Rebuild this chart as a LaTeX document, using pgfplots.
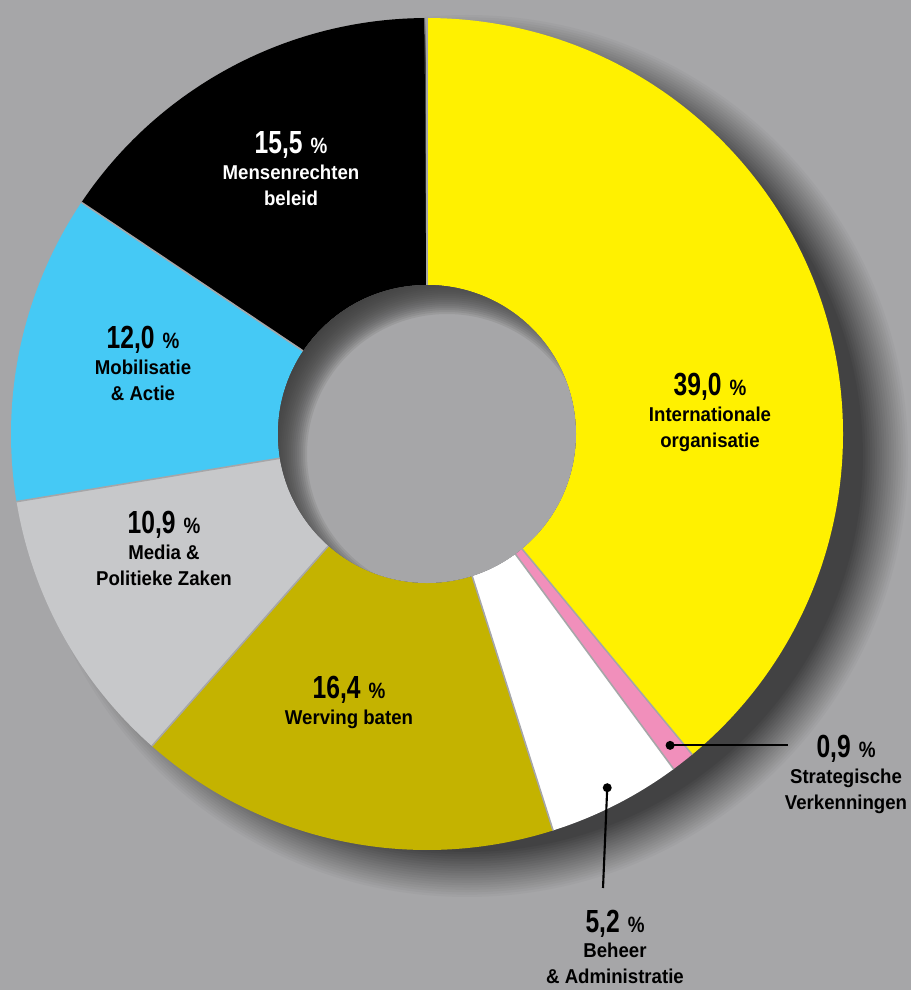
\documentclass[border=0pt]{standalone}
\usepackage{pgfplots}
\pgfplotsset{compat=1.18}
\usepackage{pgfplotstable}
\usepackage{fontspec}
\setmainfont{Liberation Sans}
\newfontfamily\numf{Liberation Sans}[FakeStretch=0.77]
\newfontfamily\txtf{Liberation Sans}[FakeStretch=0.93]
\newfontfamily\pctf{Liberation Sans}[FakeStretch=0.85]

\definecolor{bg}{HTML}{A6A6A8}
\definecolor{shd}{HTML}{3A3A3A}
\definecolor{cyel}{HTML}{FFF100}
\definecolor{cpink}{HTML}{F18FBB}
\definecolor{cwhite}{HTML}{FFFFFF}
\definecolor{colive}{HTML}{C4B300}
\definecolor{cgrey}{HTML}{C7C8CA}
\definecolor{cblue}{HTML}{45C9F5}
\definecolor{cblack}{HTML}{000000}

% shares in percent, clockwise from 12 o'clock
\pgfplotstableread{
share colour
39.0  cyel
0.9   cpink
5.2   cwhite
16.4  colive
10.9  cgrey
12.0  cblue
15.5  cblack
}\slices

\newcommand\SA[1]{\csname sa#1\endcsname}
\newcommand\EA[1]{\csname ea#1\endcsname}
\newcommand\MA[1]{\csname ma#1\endcsname}

% label: x, baseline of number (px from top), number, line 1, line 2, colour
\newcommand\lbl[6]{%
  \node[anchor=base, inner sep=0pt, text=#6] at (axis cs:#1,{990-#2})
    {\numf\bfseries\fontsize{9.1}{9.1}\selectfont #3\hspace{0.08cm}{\pctf\fontsize{6.3}{6.3}\selectfont\%}};
  \node[anchor=base, inner sep=0pt, text=#6, font=\txtf\bfseries\fontsize{5.7}{6}\selectfont]
    at (axis cs:#1,{990-#2-26}) {#4};
  \node[anchor=base, inner sep=0pt, text=#6, font=\txtf\bfseries\fontsize{5.7}{6}\selectfont]
    at (axis cs:#1,{990-#2-52}) {#5};
}

\begin{document}
\begin{tikzpicture}
\def\cum{0}
\pgfplotsforeachungrouped \i in {0,...,6}{%
  \pgfplotstablegetelem{\i}{share}\of\slices
  \let\curshare\pgfplotsretval
  \pgfmathsetmacro\angA{90-3.6*\cum}
  \pgfmathsetmacro\angB{90-3.6*(\cum+\curshare)}
  \pgfmathsetmacro\angM{(\angA+\angB)/2}
  \expandafter\xdef\csname sa\i\endcsname{\angA}
  \expandafter\xdef\csname ea\i\endcsname{\angB}
  \expandafter\xdef\csname ma\i\endcsname{\angM}
  \pgfmathsetmacro\cum{\cum+\curshare}
  \pgfplotstablegetelem{\i}{colour}\of\slices
  \colorlet{slice\i}{\pgfplotsretval}
}
% background and soft drop shadow (1 px = 0.01 cm, axis sits at the origin)
\fill[bg] (0,0) rectangle (9.11,9.9);
\foreach \k in {0,...,19}{
  \pgfmathsetmacro\op{0.045/(1-0.045*\k)}
  \pgfmathsetmacro\rr{4.41-\k*0.0237}
  \fill[shd, opacity=\op] (4.67,5.34) circle[radius=\rr cm];
}
\begin{axis}[
    scale only axis,
    width=9.11cm, height=9.9cm,
    xmin=0, xmax=911, ymin=0, ymax=990,
    hide axis,
]
% ring slices, centre (427,556), outer 416, inner 149
\pgfplotsinvokeforeach{0,...,6}{
  \fill[slice#1]
    (axis cs:{427+416*cos(\SA{#1})},{556+416*sin(\SA{#1})})
    arc[start angle=\SA{#1}, end angle=\EA{#1}, radius=4.16cm]
    -- (axis cs:{427+149*cos(\EA{#1})},{556+149*sin(\EA{#1})})
    arc[start angle=\EA{#1}, end angle=\SA{#1}, radius=1.49cm] -- cycle;
}
\pgfplotsinvokeforeach{0,...,6}{
  \draw[bg, line width=0.45pt]
    (axis cs:{427+149*cos(\SA{#1})},{556+149*sin(\SA{#1})})
    -- (axis cs:{427+416*cos(\SA{#1})},{556+416*sin(\SA{#1})});
}
\fill[bg] (axis cs:427,556) circle[radius=1.49cm];
\coordinate (C) at (axis cs:427,556);

% leaders for the two thin slices
\fill (axis cs:{427+395*cos(\MA{1})},{556+395*sin(\MA{1})}) circle[radius=0.045cm];
\draw[line width=0.6pt] (axis cs:{427+395*cos(\MA{1})},{556+395*sin(\MA{1})})
  -- (axis cs:788,{556+395*sin(\MA{1})});
\fill (axis cs:{427+397*cos(\MA{2})},{556+397*sin(\MA{2})}) circle[radius=0.045cm];
\draw[line width=0.6pt] (axis cs:{427+397*cos(\MA{2})},{556+397*sin(\MA{2})})
  -- (axis cs:603,102);

\lbl{710}{395}{39,0}{Internationale}{organisatie}{black}
\lbl{291}{153}{15,5}{Mensenrechten}{beleid}{white}
\lbl{143}{348}{12,0}{Mobilisatie}{\& Actie}{black}
\lbl{164}{533}{10,9}{Media \&}{Politieke Zaken}{black}
\lbl{349}{698}{16,4}{Werving baten}{}{black}
\lbl{846}{757}{0,9}{Strategische}{Verkenningen}{black}
\lbl{615}{932}{5,2}{Beheer}{\& Administratie}{black}
\end{axis}
% inner shadow of the hole, dark at the upper left
\begin{scope}
  \clip (C) circle[radius=1.49cm];
  \foreach \k in {0,...,19}{
    \fill[shd, opacity=0.11, even odd rule] (C) circle[radius=2.2cm]
      ([shift={(0.2cm,-0.2cm)}]C) circle[radius={1.40cm+\k*0.02cm}];
  }
\end{scope}
\end{tikzpicture}
\end{document}
